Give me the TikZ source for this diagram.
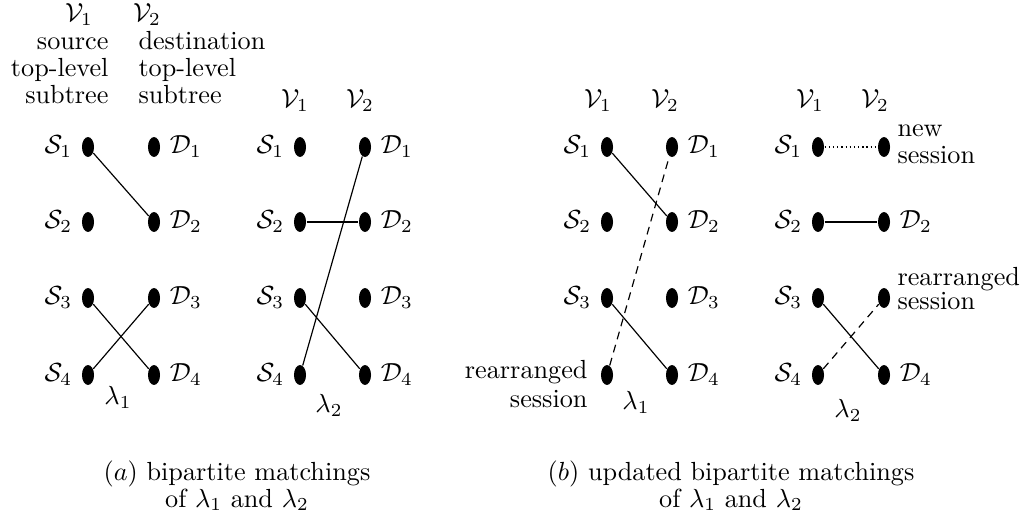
\documentclass[tikz,border=0pt]{standalone}
\usetikzlibrary{shapes.geometric}
\begin{document}
\begin{tikzpicture}[x=0.3817pt,y=-0.3817pt,
  dot/.style={ellipse,fill=black,inner sep=0pt,minimum width=4.6pt,minimum height=7.6pt},
  edge/.style={line width=0.45pt},
  dashedge/.style={line width=0.45pt,dash pattern=on 3pt off 2.2pt},
  dotedge/.style={line width=0.5pt,dash pattern=on 0.5pt off 1.1pt},
  txt/.style={inner sep=0pt}]
\useasboundingbox (0,0) rectangle (1028,522);
% dots
\foreach \p/\sx/\dx in {1/88/154, 2/300/365, 3/607/672, 4/818/884} {
  \foreach \i/\yy in {1/147,2/222,3/298,4/375} {
    \node[dot] (s\p\i) at (\sx,\yy) {};
    \node[dot] (d\p\i) at (\dx,\yy) {};
  }
}
% S labels
\foreach \p/\i in {1/1,1/2,1/3,1/4,2/1,2/2,2/3,2/4,3/1,3/2,3/3,4/1,4/2,4/3,4/4} {
  \node[anchor=east] (ls\p\i) at (s\p\i.west) {$\mathcal{S}_\i$};
}
% D labels
\foreach \p/\i in {1/1,1/2,1/3,1/4,2/1,2/2,2/3,2/4,3/1,3/2,3/3,3/4,4/2,4/4} {
  \node[anchor=west] (ld\p\i) at (d\p\i.east) {$\mathcal{D}_\i$};
}
% V labels
\node[txt,anchor=base] (v11) at (79,22) {$\mathcal{V}_1$};
\node[txt,anchor=base] (v12) at (147,22) {$\mathcal{V}_2$};
\node[txt,anchor=base] (v21) at (295,108) {$\mathcal{V}_1$};
\node[txt,anchor=base] (v22) at (360,108) {$\mathcal{V}_2$};
\node[txt,anchor=base] (v31) at (598,108) {$\mathcal{V}_1$};
\node[txt,anchor=base] (v32) at (665,108) {$\mathcal{V}_2$};
\node[txt,anchor=base] (v41) at (810,108) {$\mathcal{V}_1$};
\node[txt,anchor=base] (v42) at (875,108) {$\mathcal{V}_2$};
% panel 1 header text
\node[txt,anchor=base east] (src1) at (109,50) {source};
\node[txt,anchor=base east] (src2) at (109,77) {top-level};
\node[txt,anchor=base east] (src3) at (109,104) {subtree};
\node[txt,anchor=base west] (dst1) at (138,50) {destination};
\node[txt,anchor=base west] (dst2) at (138,77) {top-level};
\node[txt,anchor=base west] (dst3) at (138,104) {subtree};
% lambda labels
\node (lam1) at (118,397) {$\lambda_1$};
\node (lam2) at (329,405) {$\lambda_2$};
\node (lam3) at (636,402) {$\lambda_1$};
\node (lam4) at (848,410) {$\lambda_2$};
% session labels
\node[txt,anchor=base east] (re3a) at (588,378) {rearranged};
\node[txt,anchor=base east] (re3b) at (588,407) {session};
\node[txt,anchor=base west] (new4a) at (897,137) {new};
\node[txt,anchor=base west] (new4b) at (897,164) {session};
\node[txt,anchor=base west] (re4a) at (897,286) {rearranged};
\node[txt,anchor=base west] (re4b) at (897,310) {session};
% edges panel 1
\draw[edge] (s11) -- (d12);
\draw[edge] (s13) -- (d14);
\draw[edge] (s14) -- (d13);
% edges panel 2
\draw[edge] (s24) -- (d21);
\draw[edge] (s22) -- (d22);
\draw[edge] (s23) -- (d24);
% edges panel 3
\draw[edge] (s31) -- (d32);
\draw[edge] (s33) -- (d34);
\draw[dashedge] (s34) -- (d31);
% edges panel 4
\draw[dotedge] (s41) -- (d41);
\draw[edge] (s42) -- (d42);
\draw[edge] (s43) -- (d44);
\draw[dashedge] (s44) -- (d43);
% captions
\node[txt,anchor=base] (capa1) at (237,480) {$(a)$ bipartite matchings};
\node[txt,anchor=base] (capa2) at (237,507) {of $\lambda_1$ and $\lambda_2$};
\node[txt,anchor=base] (capb1) at (731,480) {$(b)$ updated bipartite matchings};
\node[txt,anchor=base] (capb2) at (731,507) {of $\lambda_1$ and $\lambda_2$};
\end{tikzpicture}
\end{document}
